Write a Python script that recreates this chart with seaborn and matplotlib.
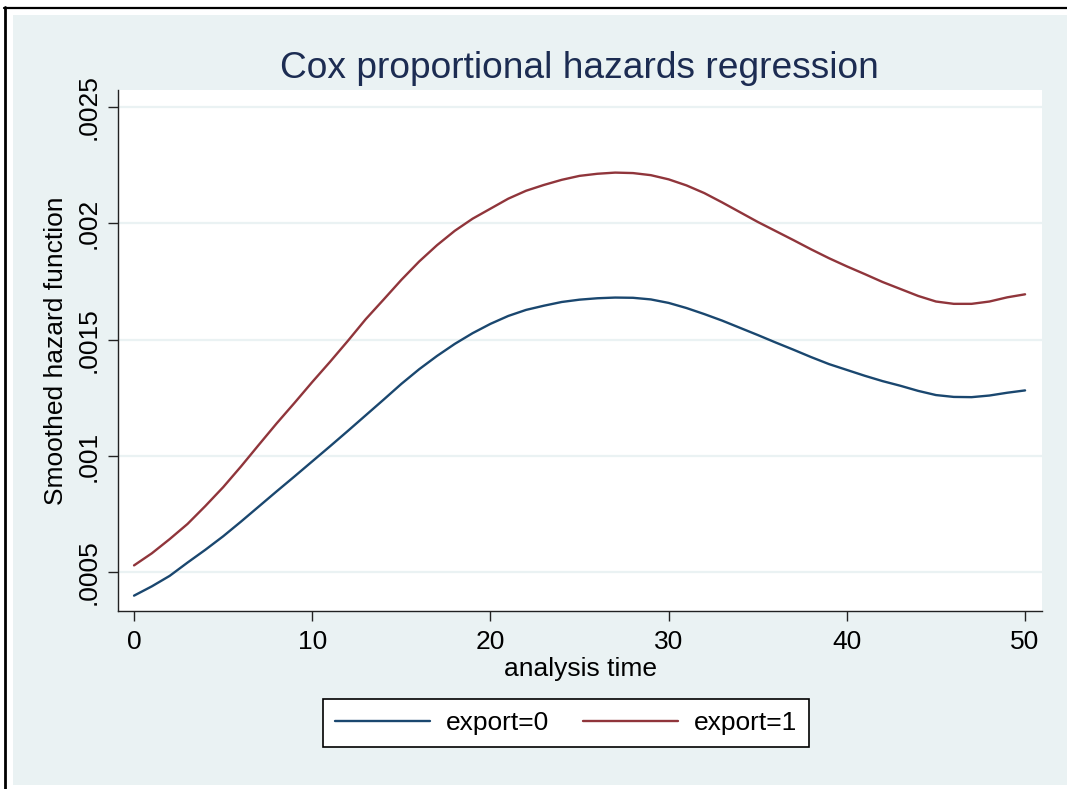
import numpy as np
import pandas as pd
import seaborn as sns
import matplotlib.pyplot as plt
from matplotlib.patches import Rectangle
from matplotlib.lines import Line2D

# analysis time grid and smoothed hazard estimates
time = list(range(0, 51))
export0 = [0.000400, 0.000440, 0.000485, 0.000542, 0.000597, 0.000655, 0.000718, 0.000783, 0.000848, 0.000912,
           0.000977, 0.001042, 0.001108, 0.001175, 0.001242, 0.001310, 0.001373, 0.001430, 0.001482, 0.001528,
           0.001568, 0.001602, 0.001628, 0.001646, 0.001662, 0.001672, 0.001678, 0.001681, 0.001680, 0.001673,
           0.001658, 0.001636, 0.001610, 0.001582, 0.001551, 0.001520, 0.001488, 0.001457, 0.001425, 0.001395,
           0.001370, 0.001345, 0.001322, 0.001302, 0.001280, 0.001262, 0.001254, 0.001253, 0.001260, 0.001272,
           0.001282]
export1 = [0.000530, 0.000582, 0.000643, 0.000708, 0.000785, 0.000866, 0.000955, 0.001048, 0.001140, 0.001228,
           0.001318, 0.001405, 0.001495, 0.001588, 0.001672, 0.001757, 0.001836, 0.001906, 0.001968, 0.002020,
           0.002063, 0.002106, 0.002140, 0.002165, 0.002187, 0.002204, 0.002213, 0.002218, 0.002216, 0.002207,
           0.002189, 0.002163, 0.002130, 0.002090, 0.002048, 0.002006, 0.001967, 0.001928, 0.001888, 0.001850,
           0.001815, 0.001782, 0.001748, 0.001718, 0.001688, 0.001664, 0.001654, 0.001654, 0.001664, 0.001682,
           0.001695]
groups = ['export=0', 'export=1']
yticks = [0.0005, 0.001, 0.0015, 0.002, 0.0025]
ytick_labels = ['.0005', '.001', '.0015', '.002', '.0025']
xticks = [0, 10, 20, 30, 40, 50]

df = pd.DataFrame({
    'time': time + time,
    'hazard': export0 + export1,
    'group': [groups[0]] * len(time) + [groups[1]] * len(time),
})

sns.set_style('white')
plt.rcParams['font.family'] = ['Liberation Sans', 'DejaVu Sans']
plt.rcParams['text.color'] = 'black'
plt.rcParams['axes.labelcolor'] = 'black'

W, H = 1067, 789
bg = '#EAF2F3'
fig = plt.figure(figsize=(W / 100, H / 100), dpi=100)
fig.patch.set_facecolor('white')

# stata-style frame
fig.add_artist(Rectangle((13 / W, 4 / H), 1 - 13 / W, (785 - 15) / H, transform=fig.transFigure,
                         facecolor=bg, edgecolor='none', zorder=0))
fig.add_artist(Line2D([4 / W, 1], [1 - 7.5 / H, 1 - 7.5 / H], transform=fig.transFigure, color='black', lw=1.6))
fig.add_artist(Line2D([4.8 / W, 4.8 / W], [0, 1 - 7 / H], transform=fig.transFigure, color='black', lw=2.0))

ax = fig.add_axes([118 / W, 1 - 611 / H, (1042 - 118) / W, (611 - 90) / H])
ax.set_facecolor('white')

sns.lineplot(data=df, x='time', y='hazard', hue='group', palette=['#1A476F', '#90353B'],
             linewidth=1.7, ax=ax, legend=False)

ax.set_xlim(-0.9, 50.95)
ax.set_ylim(0.000334, 0.002573)
ax.set_yticks(yticks)
ax.set_yticklabels(ytick_labels, rotation=90, va='center')
ax.set_xticks(xticks)
ax.grid(axis='y', color=bg, lw=1.6)
ax.grid(axis='x', visible=False)

for s in ['top', 'right']:
    ax.spines[s].set_visible(False)
for s in ['left', 'bottom']:
    ax.spines[s].set_color('#222222')
    ax.spines[s].set_linewidth(1.0)
ax.tick_params(axis='both', direction='out', length=7.5, width=1, color='#222222',
               labelsize=19, labelcolor='black', left=True, bottom=True)
ax.tick_params(axis='x', pad=6)
ax.tick_params(axis='y', pad=5)

ax.set_xlabel('analysis time', fontsize=19, labelpad=2, color='black')
ax.set_ylabel('Smoothed hazard function', fontsize=19, labelpad=6, color='black')

fig.text(579 / W, 1 - 78 / H, 'Cox proportional hazards regression', ha='center', va='baseline',
         fontsize=26.7, color='#1C2C52')

handles = [Line2D([], [], color='#1A476F', lw=1.7), Line2D([], [], color='#90353B', lw=1.7)]
leg = fig.legend(handles, groups, loc='center', bbox_to_anchor=(566 / W, 1 - 723 / H), ncol=2,
                 fontsize=19, frameon=True, fancybox=False, handlelength=3.6, handletextpad=0.6,
                 columnspacing=1.3, borderpad=0.45)
leg.get_frame().set_edgecolor('black')
leg.get_frame().set_linewidth(1.2)
leg.get_frame().set_facecolor('white')
leg.get_frame().set_alpha(1)
for t in leg.get_texts():
    t.set_color('black')

fig.savefig('out.png', dpi=100, facecolor=fig.get_facecolor())
